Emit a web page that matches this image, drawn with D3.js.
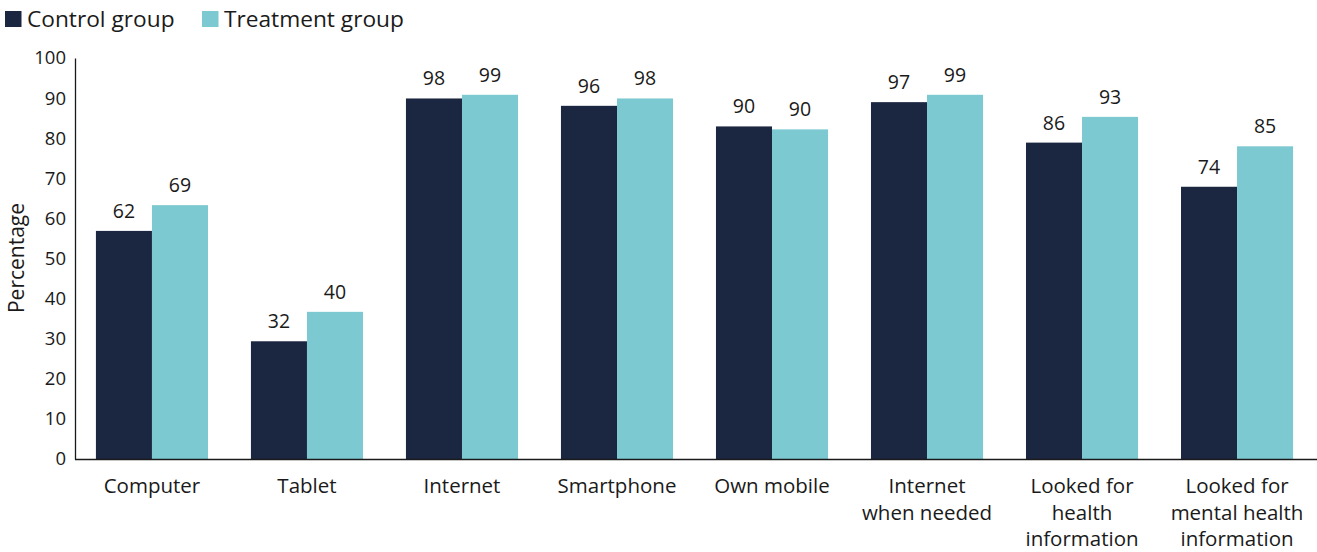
<!DOCTYPE html>
<html>
<head>
<meta charset="utf-8">
<script src="https://cdn.jsdelivr.net/npm/d3@7"></script>
<style>
  html, body { margin: 0; padding: 0; background: #ffffff; }
  svg { display: block; }
  text { font-family: "Open Sans", "Lato", sans-serif; fill: #1a1a1a; }
</style>
</head>
<body>
<svg id="chart" width="1317" height="552"></svg>
<script>
// ---- Data ----
const categories = [
  ["Computer"],
  ["Tablet"],
  ["Internet"],
  ["Smartphone"],
  ["Own mobile"],
  ["Internet", "when needed"],
  ["Looked for", "health", "information"],
  ["Looked for", "mental health", "information"]
];
const seriesNames = ["Control group", "Treatment group"];
const controlValues   = [62, 32, 98, 96, 90.4, 97, 86, 74];
const treatmentValues = [69, 40, 99, 98, 89.6, 99, 93, 85];
const yTickValues = [0, 10, 20, 30, 40, 50, 60, 70, 80, 90, 100];
// the drawn bars in the original sit on a 0–109 scale while the axis is labelled 0–100
const barScaleMax = 109;
const axisMax = 100;

const colors = ["#1b2641", "#7cc9d1"];

// ---- Layout ----
const svg = d3.select("#chart");
const mLeft = 75, mRight = 1314, mTop = 58, mBottom = 459;

const x0 = d3.scaleBand()
  .domain(d3.range(categories.length))
  .range([mLeft, mRight])
  .paddingInner(0.277)
  .paddingOuter(0.135);

const x1 = d3.scaleBand()
  .domain([0, 1])
  .range([0, x0.bandwidth()])
  .padding(0);

const yBar = d3.scaleLinear().domain([0, barScaleMax]).range([mBottom, mTop]);
const yAxisScale = d3.scaleLinear().domain([0, axisMax]).range([mBottom, mTop]);

// Bars
const groups = svg.append("g").selectAll("g")
  .data(categories.map((c, i) => ({ i, vals: [controlValues[i], treatmentValues[i]] })))
  .join("g")
  .attr("transform", d => `translate(${x0(d.i)},0)`);

groups.selectAll("rect")
  .data(d => d.vals.map((v, s) => ({ v, s })))
  .join("rect")
  .attr("x", d => x1(d.s))
  .attr("width", x1.bandwidth())
  .attr("y", d => yBar(d.v))
  .attr("height", d => mBottom - yBar(d.v))
  .attr("fill", d => colors[d.s]);

groups.selectAll("text.val")
  .data(d => d.vals.map((v, s) => ({ v, s })))
  .join("text")
  .attr("class", "val")
  .attr("x", d => x1(d.s) + x1.bandwidth() / 2)
  .attr("y", d => yBar(d.v) - 13)
  .attr("text-anchor", "middle")
  .style("font-size", "19.5px")
  .text(d => d3.format(".0f")(d.v));

// Y axis
const yAxis = svg.append("g")
  .attr("transform", `translate(${mLeft},0)`)
  .call(d3.axisLeft(yAxisScale).tickValues(yTickValues).tickSize(0).tickPadding(9));
yAxis.select(".domain").attr("stroke", "#1a1a1a").attr("stroke-width", 1.3);
yAxis.selectAll("text")
  .style("font-size", "18.5px")
  .style("font-family", "\"Open Sans\", sans-serif")
  .attr("fill", "#1a1a1a");

// X baseline
svg.append("line")
  .attr("x1", mLeft).attr("x2", 1317)
  .attr("y1", mBottom + 0.5).attr("y2", mBottom + 0.5)
  .attr("stroke", "#1a1a1a").attr("stroke-width", 1.6);

// X labels
const xl = svg.append("g").selectAll("text")
  .data(categories.map((c, i) => ({ c, i })))
  .join("text")
  .attr("x", d => x0(d.i) + x0.bandwidth() / 2)
  .attr("y", 493)
  .attr("text-anchor", "middle")
  .style("font-size", "20.5px");
xl.selectAll("tspan")
  .data(d => d.c.map(line => ({ line, x: x0(d.i) + x0.bandwidth() / 2 })))
  .join("tspan")
  .attr("x", d => d.x)
  .attr("dy", (d, j) => j === 0 ? 0 : 26.5)
  .text(d => d.line);

// Y title
svg.append("text")
  .attr("transform", "translate(24,258) rotate(-90)")
  .attr("text-anchor", "middle")
  .style("font-size", "21px")
  .text("Percentage");

// Legend
const legend = svg.append("g");
const legendX = [5, 202];
seriesNames.forEach((name, s) => {
  legend.append("rect")
    .attr("x", legendX[s]).attr("y", 11)
    .attr("width", 16.5).attr("height", 16)
    .attr("fill", colors[s]);
  legend.append("text")
    .attr("x", legendX[s] + 22).attr("y", 27)
    .style("font-size", "22.7px")
    .text(name);
});
</script>
</body>
</html>
